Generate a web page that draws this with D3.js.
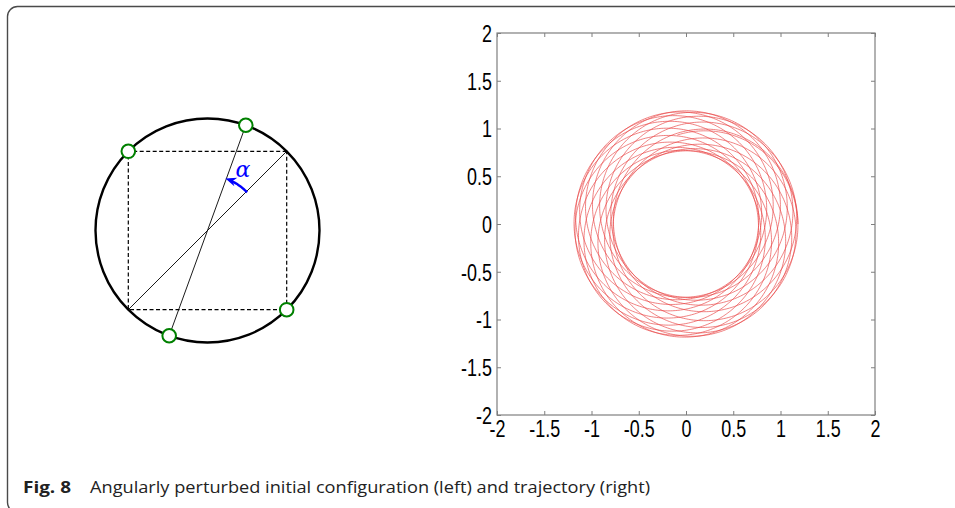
<!DOCTYPE html>
<html>
<head>
<meta charset="utf-8">
<script src="https://cdn.jsdelivr.net/npm/d3@7"></script>
<style>
html,body{margin:0;padding:0;background:#fff;}
svg{display:block;}
.tick-label{font-family:"Liberation Sans",Arial,sans-serif;font-size:23px;fill:#000;}
</style>
</head>
<body>
<svg id="chart" width="955" height="508"></svg>
<script>
// ---- Data ----
const xTicks = [-2, -1.5, -1, -0.5, 0, 0.5, 1, 1.5, 2];
const yTicks = [-2, -1.5, -1, -0.5, 0, 0.5, 1, 1.5, 2];
const xTickLabels = ["-2", "-1.5", "-1", "-0.5", "0", "0.5", "1", "1.5", "2"];
const yTickLabels = ["-2", "-1.5", "-1", "-0.5", "0", "0.5", "1", "1.5", "2"];
// trajectory: main circle radius + slowly precessing offset
const trajAmplitudes = [0.975, 0.21];
const trajFrequencies = [1, 0.058];
const trajRevolutions = 17.3;
// left diagram: square corner angles (deg) and perturbation angle alpha (deg)
const squareCorners = [45, 135, 225, 315];
const fixedParticles = [135, 315];
const alphaDeg = 25;
const caption = ["Fig. 8", "Angularly perturbed initial configuration (left) and trajectory (right)"];

const svg = d3.select("#chart");

// frame
svg.append("rect").attr("x", 7.5).attr("y", 6.5).attr("width", 980).attr("height", 506)
  .attr("rx", 10).attr("fill", "none").attr("stroke", "#4a4a4a").attr("stroke-width", 1.4);

// ---- Left diagram ----
const cx = 207.5, cy = 230.5, R = 112;
const ang = d3.scaleLinear().domain([0, 360]).range([0, 2 * Math.PI]);
const px = a => cx + R * Math.cos(ang(a));
const py = a => cy - R * Math.sin(ang(a));
const left = svg.append("g");
left.append("circle").attr("cx", cx).attr("cy", cy).attr("r", R)
  .attr("fill", "none").attr("stroke", "#000").attr("stroke-width", 2.4);
left.append("polygon")
  .attr("points", squareCorners.map(a => [px(a), py(a)].join(",")).join(" "))
  .attr("fill", "none").attr("stroke", "#000").attr("stroke-width", 1.2).attr("stroke-dasharray", "4,2.5");
left.append("line").attr("x1", px(225)).attr("y1", py(225)).attr("x2", px(45)).attr("y2", py(45))
  .attr("stroke", "#000").attr("stroke-width", 0.9);
const rot = [45 + alphaDeg, 225 + alphaDeg];
left.append("line").attr("x1", px(rot[1])).attr("y1", py(rot[1])).attr("x2", px(rot[0])).attr("y2", py(rot[0]))
  .attr("stroke", "#000").attr("stroke-width", 0.9);
// alpha arc
const ra = 55;
const tipA = 45 + alphaDeg + 1;
const arcPts = d3.range(44, tipA - 6 + 0.01, 1).map(a => [cx + ra * Math.cos(ang(a)), cy - ra * Math.sin(ang(a))]);
left.append("path").attr("d", d3.line()(arcPts)).attr("fill", "none").attr("stroke", "#0000ff").attr("stroke-width", 2.4);
const tip = [cx + ra * Math.cos(ang(tipA)), cy - ra * Math.sin(ang(tipA))];
const tang = [-Math.sin(ang(tipA)), -Math.cos(ang(tipA))];
const nrm = [Math.cos(ang(tipA)), -Math.sin(ang(tipA))];
const L = 11, W = 4.5;
const b1 = [tip[0] - L * tang[0] + W * nrm[0], tip[1] - L * tang[1] + W * nrm[1]];
const bm = [tip[0] - 0.7 * L * tang[0], tip[1] - 0.7 * L * tang[1]];
const b2 = [tip[0] - L * tang[0] - W * nrm[0], tip[1] - L * tang[1] - W * nrm[1]];
left.append("polygon").attr("points", [tip, b1, bm, b2].map(p => p.join(",")).join(" ")).attr("fill", "#0000ff");
left.append("text").attr("x", 243).attr("y", 177).attr("text-anchor", "middle")
  .attr("font-family", "DejaVu Serif, serif").attr("font-style", "italic").attr("font-size", 22)
  .attr("fill", "#0000ff").text("α");
// particles
const particles = fixedParticles.concat(rot);
left.selectAll("circle.p").data(particles).join("circle").attr("class", "p")
  .attr("cx", d => px(d)).attr("cy", d => py(d)).attr("r", 6.8)
  .attr("fill", "#fff").attr("stroke", "#008000").attr("stroke-width", 2);

// ---- Right plot ----
const x = d3.scaleLinear().domain([-2, 2]).range([497, 875]);
const y = d3.scaleLinear().domain([-2, 2]).range([415, 33]);
const plot = svg.append("g");

const tMax = 2 * Math.PI * trajRevolutions;
const n = 6000;
const pts = d3.range(n + 1).map(i => {
  const t = tMax * i / n;
  let X = 0, Y = 0;
  trajAmplitudes.forEach((A, k) => { X += A * Math.cos(trajFrequencies[k] * t); Y += A * Math.sin(trajFrequencies[k] * t); });
  return [X, Y];
});
plot.append("path").attr("d", d3.line().x(d => x(d[0])).y(d => y(d[1]))(pts))
  .attr("fill", "none").attr("stroke", "#e94444").attr("stroke-opacity", 0.75).attr("stroke-width", 0.9);

const axisColor = "#7f7f7f";
plot.append("rect").attr("x", x(-2)).attr("y", y(2)).attr("width", x(2) - x(-2)).attr("height", y(-2) - y(2))
  .attr("fill", "none").attr("stroke", axisColor).attr("stroke-width", 1.2);

const tl = 4;
const gx = plot.append("g").attr("transform", `translate(0,${y(-2)})`)
  .call(d3.axisBottom(x).tickValues(xTicks).tickSize(-tl).tickPadding(6).tickFormat((d, i) => xTickLabels[i]));
const gxt = plot.append("g").attr("transform", `translate(0,${y(2)})`)
  .call(d3.axisTop(x).tickValues(xTicks).tickSize(-tl).tickFormat(""));
const gy = plot.append("g").attr("transform", `translate(${x(-2)},0)`)
  .call(d3.axisLeft(y).tickValues(yTicks).tickSize(-tl).tickPadding(5).tickFormat((d, i) => yTickLabels[i]));
const gyr = plot.append("g").attr("transform", `translate(${x(2)},0)`)
  .call(d3.axisRight(y).tickValues(yTicks).tickSize(-tl).tickFormat(""));
[gx, gxt, gy, gyr].forEach(g => {
  g.select(".domain").remove();
  g.selectAll(".tick line").attr("stroke", axisColor).attr("stroke-width", 1);
  g.selectAll("text").attr("class", "tick-label").attr("font-size", null).attr("font-family", null).attr("fill", null);
});
gx.selectAll("text").attr("dy", "0.71em");
gy.selectAll("text").attr("dy", "0.36em");
[gx, gy].forEach(g => g.selectAll("text").each(function () {
  const t = d3.select(this);
  const tx = +t.attr("x") || 0;
  t.attr("x", 0).attr("transform", `translate(${tx},0) scale(0.78,1)`);
}));

const cap = svg.append("text").attr("y", 492.5)
  .attr("font-family", "Open Sans, sans-serif").attr("font-size", 16).attr("fill", "#222");
cap.append("tspan").attr("x", 23).attr("font-weight", "bold").attr("textLength", 48).attr("lengthAdjust", "spacingAndGlyphs").text(caption[0]);
cap.append("tspan").attr("x", 90).attr("textLength", 560).attr("lengthAdjust", "spacingAndGlyphs").text(caption[1]);
</script>
</body>
</html>
